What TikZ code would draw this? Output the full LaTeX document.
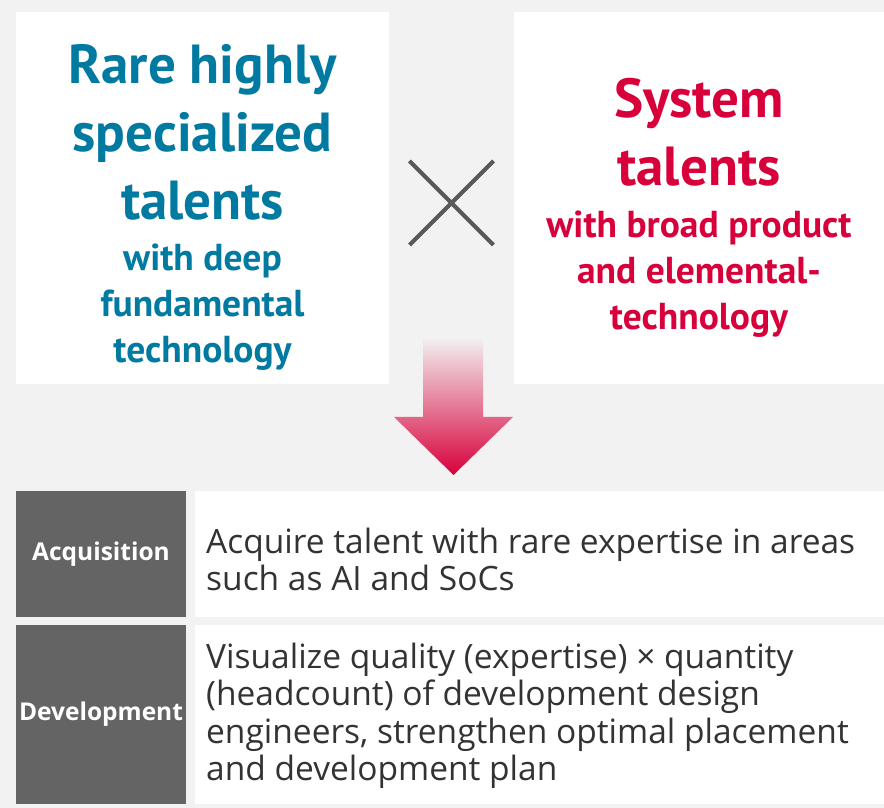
\documentclass[tikz,border=0pt]{standalone}
\usepackage{fontspec}
\setmainfont{Open Sans}
\newfontfamily\headfont{PT Sans}
\usetikzlibrary{shapes.misc, positioning}
\definecolor{bggray}{RGB}{242,242,242}
\definecolor{blue1}{RGB}{0,122,160}
\definecolor{red1}{RGB}{215,0,58}
\definecolor{gray1}{RGB}{100,100,100}
\definecolor{gray2}{RGB}{89,89,89}
\definecolor{text1}{RGB}{51,51,51}
\tikzset{
  card/.style={fill=white, inner sep=0pt},
  tagbox/.style={fill=gray1, text=white, inner sep=0pt, minimum width=170pt,
    font=\bfseries\fontsize{24.5}{28}\selectfont},
  rowbox/.style={fill=white, inner sep=0pt, minimum width=689pt},
  rowtext/.style={anchor=west, inner sep=0pt, align=left, text=text1,
    font=\fontsize{33.5}{37.5}\selectfont},
  bigtext/.style={align=center, inner sep=0pt, font=\headfont\bfseries\fontsize{55}{68}\selectfont},
  smalltext/.style={align=center, inner sep=0pt, font=\headfont\bfseries\fontsize{37.5}{46}\selectfont}
}

\begin{document}
\begin{tikzpicture}[x=1pt, y=1pt]
  \fill[bggray] (0,0) rectangle (884,808);
  \useasboundingbox (0,0) rectangle (884,808);

  % the two talent cards
  \node[card, minimum width=373pt, minimum height=372pt] (rare) at (202.5,610) {};
  \node[card, minimum width=370pt, minimum height=372pt] (system) at (699,610) {};

  \node[bigtext, text=blue1] (raretitle) at (202.5,676) {Rare highly\\specialized\\talents};
  \node[smalltext, text=blue1] (raresub) at (202.5,501) {with deep\\fundamental\\technology};
  \node[bigtext, text=red1] (systitle) at (699,676) {System\\talents};
  \node[smalltext, text=red1] (syssub) at (699,534) {with broad product\\and elemental-\\technology};

  % times sign and arrow
  \node[cross out, draw=gray2, line width=4pt, minimum size=80pt, inner sep=0pt] (times) at (451.5,605) {};
  \shade[top color=bggray, middle color=red1!80, bottom color=red1]
    (423,471) -- (483,471) -- (483,391) -- (513,391) -- (453.5,333)
    -- (394,391) -- (423,391) -- cycle;

  % measures
  \node[tagbox, minimum height=126pt] (acq) at (101,254) {Acquisition};
  \node[rowbox, minimum height=126pt] (acqrow) at (539.5,254) {};
  \node[rowtext] (acqtxt) at (206,248.5) {Acquire talent with rare expertise in areas\\such as AI and SoCs};

  \node[tagbox, minimum height=179pt] (dev) at (101,93.5) {Development};
  \node[rowbox, minimum height=179pt] (devrow) at (539.5,93.5) {};
  \node[rowtext] (devtxt) at (206,92) {Visualize quality (expertise) × quantity\\(headcount) of development design\\engineers, strengthen optimal placement\\and development plan};
\end{tikzpicture}
\end{document}
